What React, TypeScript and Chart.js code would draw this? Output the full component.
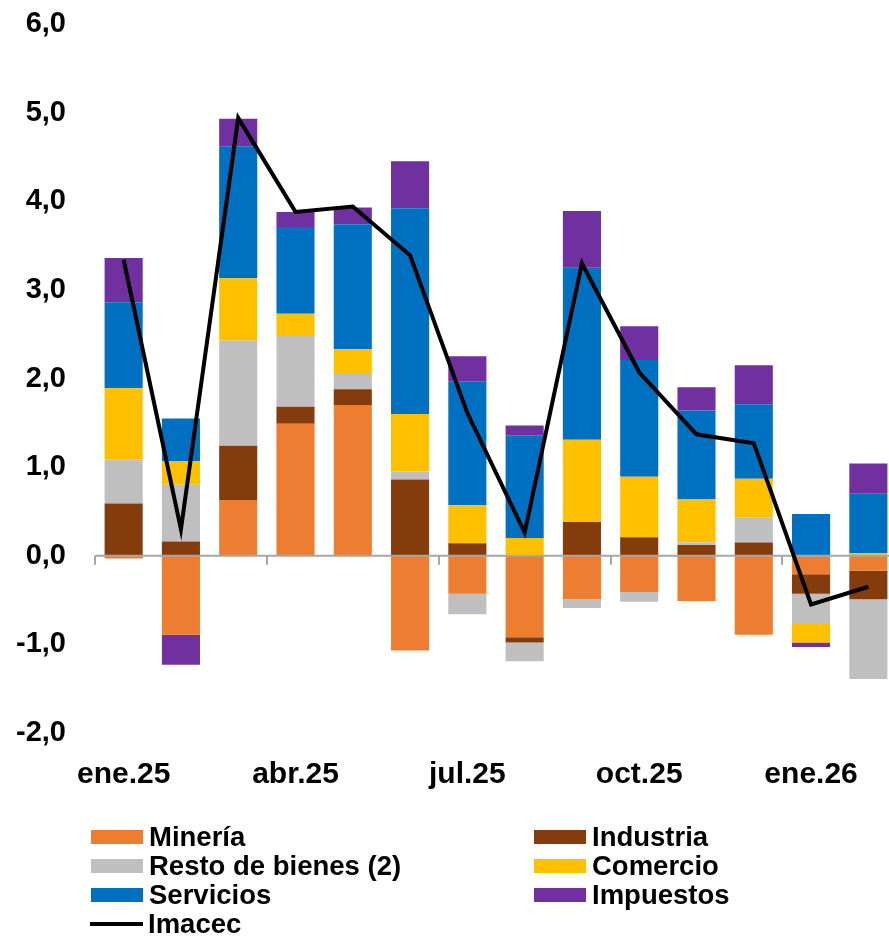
import React, { useEffect, useRef } from "react";
import { Chart, registerables } from "chart.js";

Chart.register(...registerables);

const categories = ["ene.25", "feb.25", "mar.25", "abr.25", "may.25", "jun.25", "jul.25", "ago.25", "sep.25", "oct.25", "nov.25", "dic.25", "ene.26", "feb.26"];
const mineria = [-0.03, -0.89, 0.63, 1.49, 1.70, -1.07, -0.43, -0.92, -0.49, -0.41, -0.51, -0.89, -0.21, -0.17];
const industria = [0.59, 0.16, 0.61, 0.19, 0.18, 0.86, 0.14, -0.06, 0.38, 0.21, 0.12, 0.15, -0.22, -0.32];
const restoBienes = [0.50, 0.64, 1.19, 0.80, 0.17, 0.09, -0.23, -0.21, -0.10, -0.11, 0.03, 0.28, -0.34, -0.90];
const comercio = [0.80, 0.27, 0.70, 0.25, 0.28, 0.65, 0.43, 0.20, 0.93, 0.68, 0.49, 0.44, -0.21, 0.03];
const servicios = [0.97, 0.48, 1.49, 0.98, 1.41, 2.32, 1.40, 1.16, 1.94, 1.32, 1.00, 0.84, 0.47, 0.67];
const impuestos = [0.50, -0.34, 0.31, 0.17, 0.19, 0.53, 0.28, 0.11, 0.64, 0.38, 0.26, 0.44, -0.05, 0.34];
const imacec = [3.34, 0.30, 4.94, 3.88, 3.94, 3.39, 1.61, 0.26, 3.30, 2.07, 1.37, 1.27, -0.55, -0.35];

const seriesNames = ["Minería", "Industria", "Resto de bienes (2)", "Comercio", "Servicios", "Impuestos"];
const seriesColors = ["#ED7D31", "#843C0C", "#BFBFBF", "#FFC000", "#0070C0", "#7030A0"];
const seriesData = [mineria, industria, restoBienes, comercio, servicios, impuestos];
const lineName = "Imacec";
const yMin = -2;
const yMax = 6;
const labelEvery = 3;

const FONT = "'Liberation Sans', Arial, sans-serif";

const zeroLinePlugin = {
  id: "zeroLine",
  beforeDatasetDraw(chart: any, args: any) {
    if (args.index !== seriesData.length) return;
    const { ctx, chartArea } = chart;
    const x = chart.scales.x;
    const y = chart.scales.y;
    const y0 = y.getPixelForValue(0);
    const half = (x.getPixelForValue(1) - x.getPixelForValue(0)) / 2;
    ctx.save();
    ctx.strokeStyle = "#A6A6A6";
    ctx.lineWidth = 2;
    ctx.beginPath();
    ctx.moveTo(chartArea.left, y0);
    ctx.lineTo(chartArea.right, y0);
    for (let i = 0; i < categories.length; i += labelEvery) {
      const bx = Math.round(x.getPixelForValue(i) - half);
      ctx.moveTo(bx, y0);
      ctx.lineTo(bx, y0 + 9);
    }
    ctx.stroke();
    ctx.restore();
  },
};

function LegendItem({ left, top, color, label, line }: any) {
  return (
    <div style={{ position: "absolute", left, top, height: 29, display: "flex", alignItems: "center" }}>
      {line ? (
        <div style={{ width: 53, height: 4, background: "#000", marginRight: 5 }} />
      ) : (
        <div style={{ width: 52, height: 14, background: color, marginRight: 6 }} />
      )}
      <span style={{ font: `bold 27.5px ${FONT}`, color: "#000", whiteSpace: "nowrap", lineHeight: "29px" }}>{label}</span>
    </div>
  );
}

export default function App() {
  const ref = useRef<HTMLCanvasElement>(null);
  useEffect(() => {
    if (!ref.current) return;
    const datasets: any[] = seriesData.map((d, i) => ({
      type: "bar",
      label: seriesNames[i],
      data: d,
      backgroundColor: seriesColors[i],
      borderWidth: 0,
      stack: "s",
      order: 1,
      barPercentage: 0.665,
      categoryPercentage: 1,
    }));
    datasets.push({
      type: "line",
      label: lineName,
      data: imacec,
      borderColor: "#000",
      backgroundColor: "#000",
      borderWidth: 4,
      pointRadius: 0,
      tension: 0,
      order: 0,
      stack: "line",
    });
    const chart = new Chart(ref.current, {
      type: "bar",
      data: { labels: categories, datasets },
      plugins: [zeroLinePlugin],
      options: {
        animation: false,
        responsive: false,
        maintainAspectRatio: false,
        layout: { padding: { top: 24, bottom: 0, left: 0, right: 0 } },
        plugins: { legend: { display: false }, tooltip: { enabled: false } },
        scales: {
          x: {
            stacked: true,
            grid: { display: false, drawTicks: false },
            border: { display: false },
            ticks: {
              autoSkip: false,
              maxRotation: 0,
              padding: 24,
              color: "#000",
              font: { family: FONT, size: 30, weight: "bold" },
              callback: (_v: any, i: number) => (i % labelEvery === 0 ? categories[i] : ""),
            },
            afterFit: (s: any) => {
              s.height = 203;
            },
          },
          y: {
            stacked: true,
            min: yMin,
            max: yMax,
            grid: { display: false, drawTicks: false },
            border: { display: false },
            ticks: {
              stepSize: 1,
              padding: 29,
              color: "#000",
              font: { family: FONT, size: 29, weight: "bold" },
              callback: (v: any) => Number(v).toFixed(1).replace(".", ","),
            },
            afterFit: (s: any) => {
              s.width = 95;
              s.paddingTop = 0;
              s.paddingBottom = 0;
            },
          },
        },
      },
    });
    return () => chart.destroy();
  }, []);

  return (
    <div style={{ position: "fixed", left: 0, top: 0, width: 889, height: 936, overflow: "hidden", background: "#fff" }}>
      <canvas ref={ref} width={897} height={936} style={{ width: 897, height: 936, display: "block" }} />
      <LegendItem left={91} top={822} color={seriesColors[0]} label={seriesNames[0]} />
      <LegendItem left={534} top={822} color={seriesColors[1]} label={seriesNames[1]} />
      <LegendItem left={91} top={851} color={seriesColors[2]} label={seriesNames[2]} />
      <LegendItem left={534} top={851} color={seriesColors[3]} label={seriesNames[3]} />
      <LegendItem left={91} top={880} color={seriesColors[4]} label={seriesNames[4]} />
      <LegendItem left={534} top={880} color={seriesColors[5]} label={seriesNames[5]} />
      <LegendItem left={90} top={909} line label={lineName} />
    </div>
  );
}
